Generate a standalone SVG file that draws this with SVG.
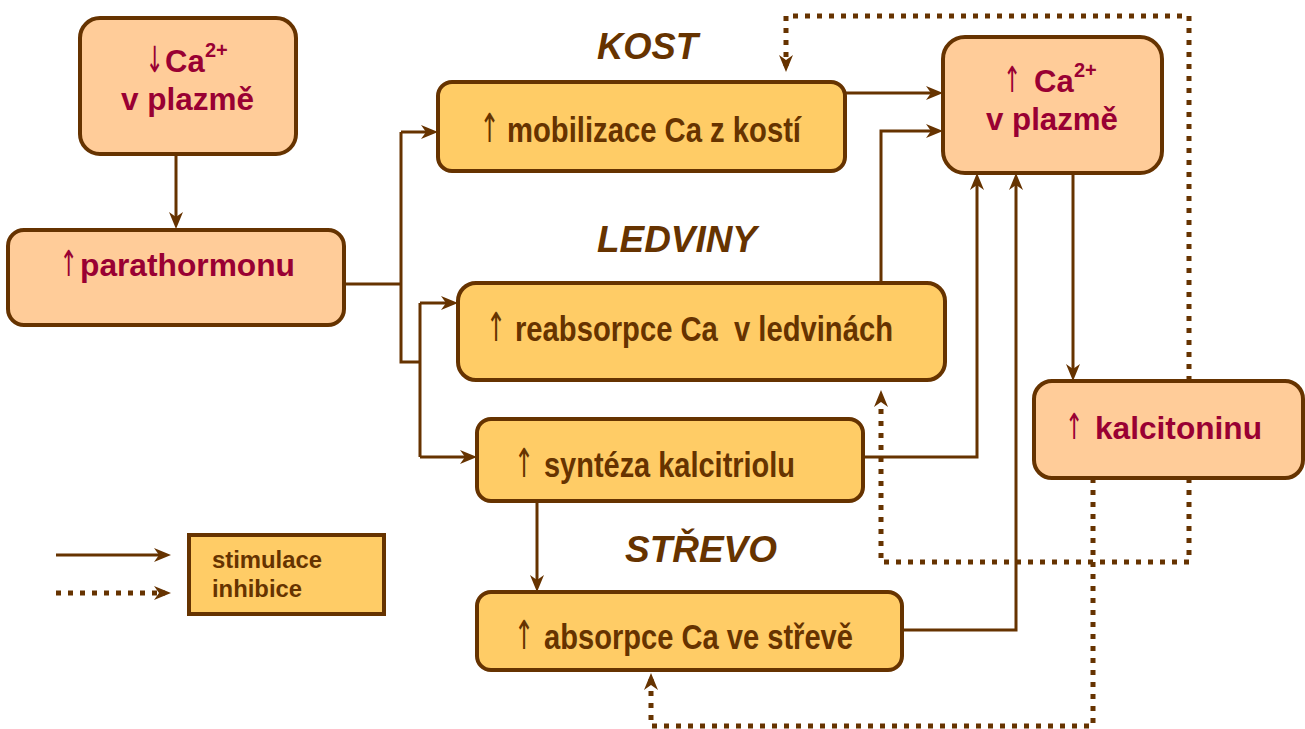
<svg xmlns="http://www.w3.org/2000/svg" width="1305" height="729" viewBox="0 0 1305 729">
<style>
.peach{fill:#FFCC99;stroke:#663300;stroke-width:4}
.yel{fill:#FFCC66;stroke:#663300;stroke-width:4}
.red{font-family:"Liberation Sans",Arial,sans-serif;font-weight:bold;font-size:31px;fill:#990033}
.brn{font-family:"Liberation Sans",Arial,sans-serif;font-weight:bold;font-size:35px;fill:#663300}
.ar{font-family:"DejaVu Sans","Liberation Sans",sans-serif;font-weight:normal;font-size:36px;fill:#990033}
.ab{font-family:"DejaVu Sans","Liberation Sans",sans-serif;font-weight:normal;font-size:40px;fill:#663300}
.lbl{font-family:"Liberation Sans",Arial,sans-serif;font-weight:bold;font-style:italic;font-size:36px;fill:#663300}
.leg{font-family:"Liberation Sans",Arial,sans-serif;font-weight:bold;font-size:23px;fill:#663300}
.sol{fill:none;stroke:#663300;stroke-width:3}
.dot{fill:none;stroke:#663300;stroke-width:5;stroke-dasharray:5 7}
</style>
<defs>
<marker id="ah" markerUnits="userSpaceOnUse" markerWidth="24" markerHeight="18" viewBox="-12 -9 24 18" refX="0" refY="0" orient="auto">
<path d="M6,0 L-11,-7 L-6,0 L-11,7 Z" fill="#663300"/>
</marker>
</defs>

<g id="connectors">
<path class="sol" d="M176,156 V223" marker-end="url(#ah)"/>
<path class="sol" d="M344,284 H401"/>
<path class="sol" d="M401,132 V362 H420"/>
<path class="sol" d="M401,132 H432" marker-end="url(#ah)"/>
<path class="sol" d="M420,303 V457"/>
<path class="sol" d="M420,303 H452" marker-end="url(#ah)"/>
<path class="sol" d="M420,457 H471" marker-end="url(#ah)"/>
<path class="sol" d="M845,93 H937" marker-end="url(#ah)"/>
<path class="sol" d="M881,283 V131 H937" marker-end="url(#ah)"/>
<path class="sol" d="M863,457 H977 V179" marker-end="url(#ah)"/>
<path class="sol" d="M902,630 H1016 V179" marker-end="url(#ah)"/>
<path class="sol" d="M1073,173 V375" marker-end="url(#ah)"/>
<path class="sol" d="M537,501 V586" marker-end="url(#ah)"/>
<path class="dot" d="M1189,381 V16 H786 V66" marker-end="url(#ah)"/>
<path class="dot" d="M1189,478 V562 H881 V396" marker-end="url(#ah)"/>
<path class="dot" d="M1093,478 V726 H651 V679" marker-end="url(#ah)"/>
</g>

<g id="node-ca-low">
<rect class="peach" x="80" y="18" width="216" height="136" rx="20"/>
<text class="ar" transform="translate(145.5,72) scale(0.6,1)">↓</text>
<text class="red" x="165" y="72">Ca<tspan x="205" y="57" font-size="20">2+</tspan></text>
<text class="red" x="121" y="110" textLength="133" lengthAdjust="spacingAndGlyphs">v plazmě</text>
</g>

<g id="node-parathormon">
<rect class="peach" x="8" y="230" width="336" height="95" rx="16"/>
<text class="ar" transform="translate(59.5,276) scale(0.6,1)">↑</text>
<text class="red" x="80" y="276" textLength="215" lengthAdjust="spacingAndGlyphs">parathormonu</text>
</g>

<g id="node-kost">
<rect class="yel" x="438" y="82" width="407" height="89" rx="14"/>
<text class="ab" transform="translate(479.5,142) scale(0.6,1)">↑</text>
<text class="brn" x="507" y="142" textLength="294" lengthAdjust="spacingAndGlyphs">mobilizace Ca z kostí</text>
</g>

<g id="node-ca-high">
<rect class="peach" x="943" y="37" width="219" height="136" rx="22"/>
<text class="ar" transform="translate(1003,92) scale(0.6,1)">↑</text>
<text class="red" x="1034" y="92">Ca<tspan x="1074" y="77" font-size="20">2+</tspan></text>
<text class="red" x="986" y="130" textLength="132" lengthAdjust="spacingAndGlyphs">v plazmě</text>
</g>

<g id="node-ledviny">
<rect class="yel" x="458" y="283" width="487" height="97" rx="18"/>
<text class="ab" transform="translate(486,341) scale(0.6,1)">↑</text>
<text class="brn" x="515" y="341" textLength="378" lengthAdjust="spacingAndGlyphs" xml:space="preserve">reabsorpce Ca  v ledvinách</text>
</g>

<g id="node-kalcitriol">
<rect class="yel" x="477" y="419" width="386" height="82" rx="14"/>
<text class="ab" transform="translate(514,477) scale(0.6,1)">↑</text>
<text class="brn" x="544" y="477" textLength="251" lengthAdjust="spacingAndGlyphs">syntéza kalcitriolu</text>
</g>

<g id="node-strevo">
<rect class="yel" x="477" y="592" width="425" height="78" rx="14"/>
<text class="ab" transform="translate(514,649) scale(0.6,1)">↑</text>
<text class="brn" x="544" y="649" textLength="309" lengthAdjust="spacingAndGlyphs">absorpce Ca ve střevě</text>
</g>

<g id="node-kalcitonin">
<rect class="peach" x="1034" y="381" width="269" height="97" rx="18"/>
<text class="ar" transform="translate(1065,439) scale(0.6,1)">↑</text>
<text class="red" x="1095" y="439" textLength="167" lengthAdjust="spacingAndGlyphs">kalcitoninu</text>
</g>

<g id="labels">
<text class="lbl" x="597" y="59" textLength="101" lengthAdjust="spacingAndGlyphs">KOST</text>
<text class="lbl" x="597" y="252" textLength="160" lengthAdjust="spacingAndGlyphs">LEDVINY</text>
<text class="lbl" x="625" y="562" textLength="152" lengthAdjust="spacingAndGlyphs">STŘEVO</text>
</g>

<g id="legend">
<path class="sol" d="M56,555 H165" marker-end="url(#ah)"/>
<path class="dot" d="M56,593 H165" marker-end="url(#ah)"/>
<rect x="189" y="535" width="195" height="79" fill="#FFCC66" stroke="#663300" stroke-width="4"/>
<text class="leg" x="212" y="568" textLength="110" lengthAdjust="spacingAndGlyphs">stimulace</text>
<text class="leg" x="212" y="597" textLength="90" lengthAdjust="spacingAndGlyphs">inhibice</text>
</g>
</svg>
